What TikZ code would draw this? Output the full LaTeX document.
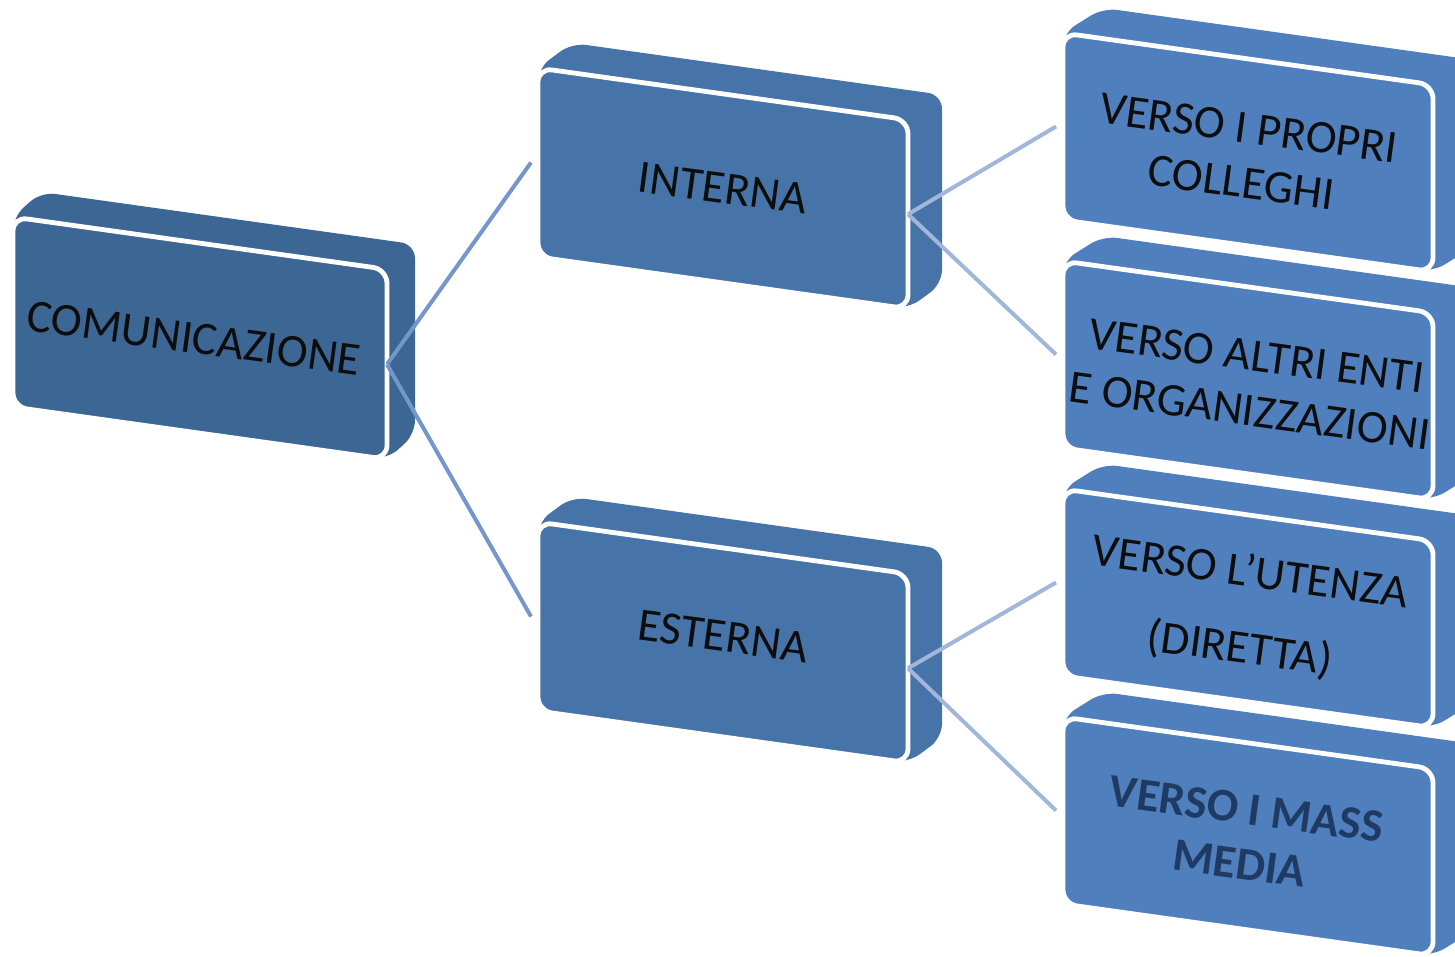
\documentclass[tikz,border=0pt]{standalone}
\usepackage{fontspec}
\setmainfont{Carlito}

\definecolor{rootblue}{HTML}{3C6694}
\definecolor{midblue}{HTML}{4674A8}
\definecolor{leafblue}{HTML}{4F80BD}
\definecolor{linkdark}{HTML}{7397CB}
\definecolor{linklight}{HTML}{A2B6DB}
\definecolor{navytext}{HTML}{1F3B63}

\tikzset{
  slabface/.style={draw=white, line width=2.4pt, rounded corners=7pt},
  slabbody/.style={rounded corners=7pt},
  lbl/.style={font=\fontsize{23.3}{27.5}\selectfont, align=center, rotate=-7.7,
              text=black!95, inner sep=0pt},
  lblbold/.style={lbl, font=\fontsize{23.3}{27.5}\selectfont\bfseries, text=navytext},
  linkone/.style={draw=linkdark, line width=2pt},
  linktwo/.style={draw=linklight, line width=2pt},
}

% A tilted slab: #1 name, #2 left x, #3 top y, #4 width, #5 height,
% #6 depth offset to the right, #7 colour
\newcommand\slab[7]{%
  \pgfmathsetmacro\slabxr{#2+#4}
  \pgfmathsetmacro\slabyr{#3+0.14*#4}
  \pgfmathsetmacro\slabyb{#3+#5}
  \pgfmathsetmacro\slabyrb{#3+0.14*#4+#5}
  % body seen behind the front face
  \fill[#7, slabbody] (#2,#3) -- ++(#6,-25) -- (\slabxr+#6,\slabyr-25)
     -- (\slabxr+#6,\slabyrb-25) -- (\slabxr,\slabyrb) -- (#2,\slabyb) -- cycle;
  % front face
  \filldraw[fill=#7, slabface] (#2,#3) -- (\slabxr,\slabyr) -- (\slabxr,\slabyrb)
     -- (#2,\slabyb) -- cycle;
  \coordinate (#1-c) at ({#2+0.5*#4},{#3+0.07*#4+0.5*#5});
  \coordinate (#1-e) at (\slabxr,{\slabyr+0.5*#5});
  \coordinate (#1-w) at ({#2-7},{#3+0.5*#5});
}

\begin{document}
\begin{tikzpicture}[x=0.5pt, y=-0.5pt]
\clip (0,0) rectangle (1455,957);
\useasboundingbox (0,0) rectangle (1455,957);

% slabs
\slab{com}{13}{217}{374}{190}{28}{rootblue}
\slab{int}{538}{68}{370}{189}{34}{midblue}
\slab{est}{538}{522}{370}{189}{34}{midblue}
\slab{pro}{1063}{33}{370}{187}{40}{leafblue}
\slab{ent}{1063}{261}{370}{187}{40}{leafblue}
\slab{ute}{1063}{489}{370}{187}{40}{leafblue}
\slab{mas}{1063}{717}{370}{187}{40}{leafblue}

% connectors
\draw[linkone] (com-e) -- (int-w);
\draw[linkone] (com-e) -- (est-w);
\draw[linktwo] (int-e) -- (pro-w);
\draw[linktwo] (int-e) -- (ent-w);
\draw[linktwo] (est-e) -- (ute-w);
\draw[linktwo] (est-e) -- (mas-w);

% labels
\node[lbl] (com) at ([xshift=-3]com-c) {COMUNICAZIONE};
\node[lbl] (int) at (int-c) {INTERNA};
\node[lbl] (est) at ([yshift=3]est-c) {ESTERNA};
\node[lbl] (pro) at ([shift={(-3,3)}]pro-c) {VERSO I PROPRI\\COLLEGHI};
\node[lbl] (ent) at ([shift={(5,3)}]ent-c) {VERSO ALTRI ENTI\\E ORGANIZZAZIONI};
\node[lbl] (ute) at ([shift={(-3,3)}]ute-c) {VERSO L’UTENZA\\[11pt](DIRETTA)};
\node[lblbold] (mas) at ([shift={(-5,0)}]mas-c) {VERSO I MASS\\MEDIA};
\end{tikzpicture}
\end{document}
